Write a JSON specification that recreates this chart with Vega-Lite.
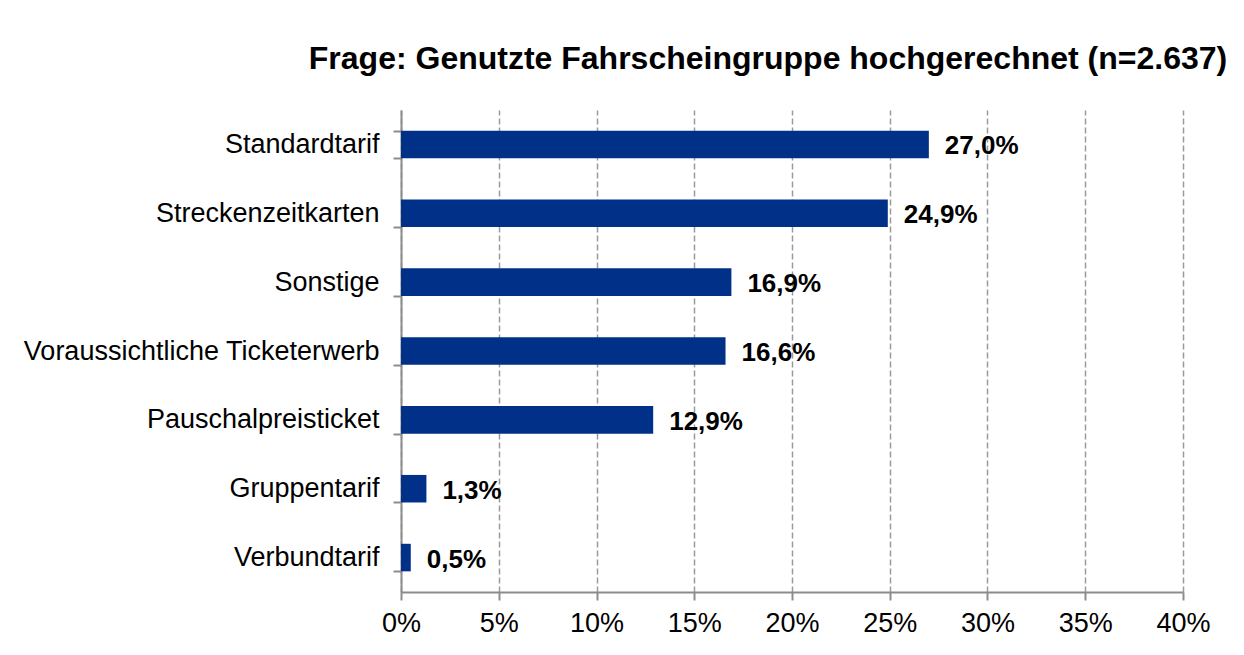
{
  "$schema": "https://vega.github.io/schema/vega-lite/v6.json",
  "width": 782,
  "height": 482,
  "autosize": {"type": "none"},
  "padding": {"left": 401, "top": 110, "right": 61, "bottom": 63},
  "background": "white",
  "title": {
    "text": "Frage: Genutzte Fahrscheingruppe hochgerechnet (n=2.637)",
    "font": "Liberation Sans",
    "fontSize": 32,
    "fontWeight": "bold",
    "color": "black",
    "anchor": "middle",
    "dx": -24,
    "offset": 20
  },
  "config": {
    "view": {"stroke": null},
    "locale": {"number": {"decimal": ",", "thousands": ".", "grouping": [3], "currency": ["", " €"]}},
    "axis": {
      "labelFont": "Liberation Sans",
      "labelFontSize": 27,
      "labelColor": "black",
      "labelLimit": 500,
      "domainColor": "#8c8c8c",
      "domainWidth": 2,
      "tickColor": "#8c8c8c",
      "tickWidth": 2,
      "tickSize": 8
    }
  },
  "data": {
    "values": [
      {"kategorie": "Standardtarif", "anteil": 0.270},
      {"kategorie": "Streckenzeitkarten", "anteil": 0.249},
      {"kategorie": "Sonstige", "anteil": 0.169},
      {"kategorie": "Voraussichtliche Ticketerwerb", "anteil": 0.166},
      {"kategorie": "Pauschalpreisticket", "anteil": 0.129},
      {"kategorie": "Gruppentarif", "anteil": 0.013},
      {"kategorie": "Verbundtarif", "anteil": 0.005}
    ]
  },
  "encoding": {
    "y": {
      "field": "kategorie",
      "type": "nominal",
      "sort": null,
      "scale": {"paddingInner": 0.6, "paddingOuter": 0.3},
      "axis": {"title": null, "tickBand": "extent", "labelPadding": 14, "grid": false}
    },
    "x": {
      "field": "anteil",
      "type": "quantitative",
      "scale": {"domain": [0, 0.4], "nice": false},
      "axis": {
        "title": null,
        "values": [0, 0.05, 0.1, 0.15, 0.2, 0.25, 0.3, 0.35, 0.4],
        "format": "~%",
        "labelFlush": false,
        "labelPadding": 10,
        "grid": true,
        "gridColor": "#9a9a9a",
        "gridDash": [6, 3],
        "gridWidth": 1.5
      }
    }
  },
  "layer": [
    {"mark": {"type": "bar", "color": "#003087"}},
    {
      "mark": {"type": "text", "align": "left", "baseline": "middle", "dx": 16, "dy": 2, "font": "Liberation Sans", "fontSize": 26, "fontWeight": "bold", "color": "black"},
      "encoding": {"text": {"field": "anteil", "type": "quantitative", "format": ".1%"}}
    }
  ]
}
